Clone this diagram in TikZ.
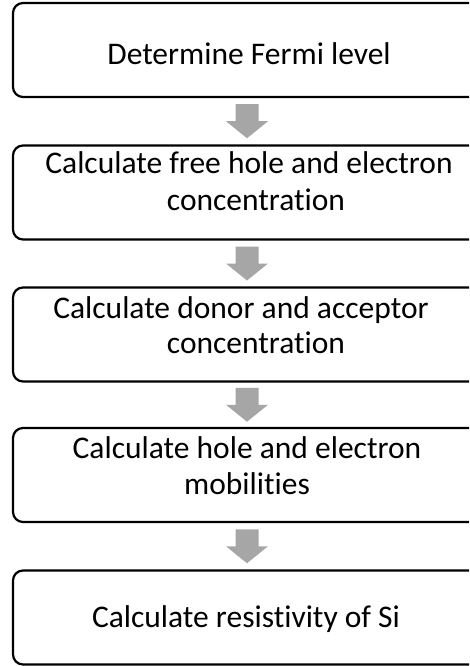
\documentclass[tikz,border=0pt]{standalone}
\usepackage{fontspec}
\setmainfont{Carlito}[Ligatures={NoCommon}]
\usetikzlibrary{calc}
\definecolor{arrowgray}{HTML}{A6A6A6}
\tikzset{
  stepbox/.style={draw=black, line width=2.2pt, rounded corners=10pt, minimum width=472pt, minimum height=94pt, inner sep=0pt},
  lbl/.style={anchor=base, inner sep=0pt, font=\fontsize{31.5}{37}\selectfont},
  blockarrow/.style={fill=arrowgray, draw=none}
}
\begin{document}
\begin{tikzpicture}[x=1pt,y=-1pt]
\useasboundingbox (0,0) rectangle (469,666);
\clip (0,0) rectangle (469,666);
\fill[white] (0,0) rectangle (469,666);
\node[stepbox] (b1) at (249,50) {};
\node[stepbox] (b2) at (249,192.5) {};
\node[stepbox] (b3) at (249,334.5) {};
\node[stepbox] (b4) at (249,475) {};
\node[stepbox] (b5) at (249,617.5) {};
\node[lbl] (t1) at (249,65) {Determine Fermi level};
\node[lbl] (t2a) at (249,173) {Calculate free hole and electron};
\node[lbl] (t2b) at (256,210) {concentration};
\node[lbl] (t3a) at (241,318) {Calculate donor and acceptor};
\node[lbl] (t3b) at (256,353) {concentration};
\node[lbl] (t4a) at (247,458) {Calculate hole and electron};
\node[lbl] (t4b) at (247,494) {mobilities};
\node[lbl] (t5) at (246,627) {Calculate resistivity of Si};
\foreach \a/\b in {b1/b2,b2/b3,b3/b4,b4/b5}{
  \coordinate (m) at ($(\a.south)!0.5!(\b.north)+(-2,0)$);
  \fill[blockarrow] ($(m)+(-11.5,-17)$) -- ($(m)+(11.5,-17)$) -- ($(m)+(11.5,0)$) -- ($(m)+(21,0)$) -- ($(m)+(0,17)$) -- ($(m)+(-21,0)$) -- ($(m)+(-11.5,0)$) -- cycle;
}
\end{tikzpicture}
\end{document}
